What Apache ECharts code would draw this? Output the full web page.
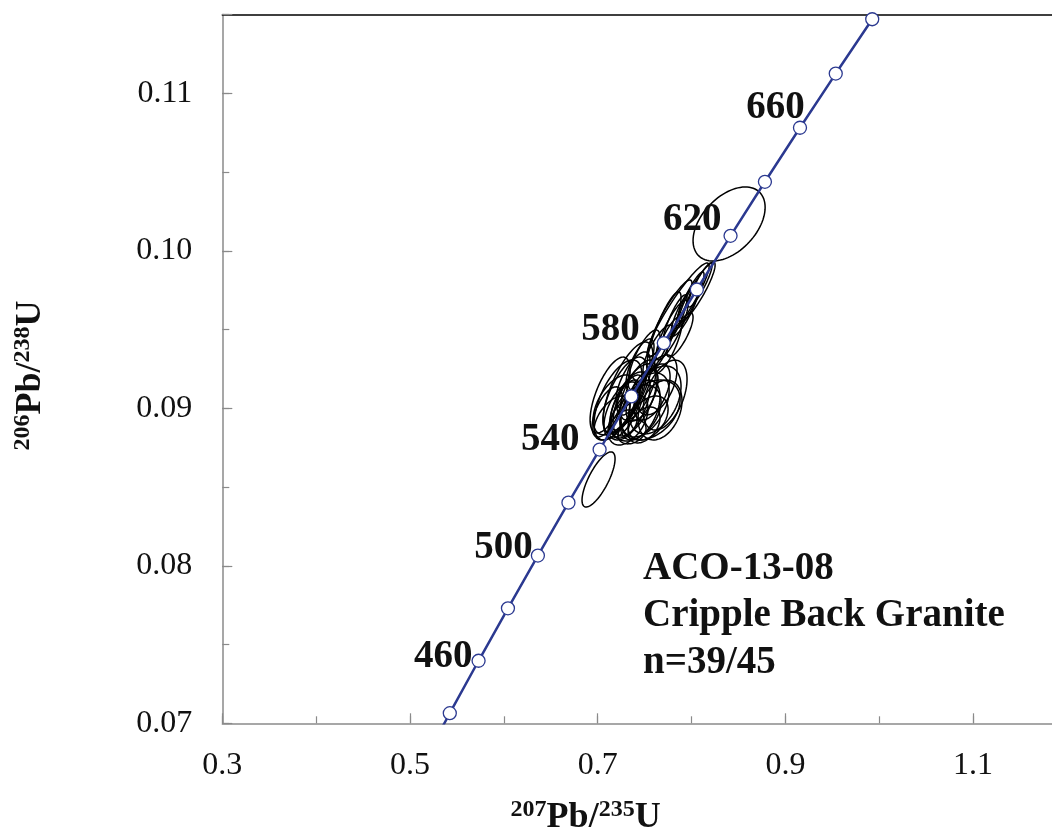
<!DOCTYPE html>
<html>
<head>
<meta charset="utf-8">
<title>Concordia ACO-13-08</title>
<script src="https://cdn.jsdelivr.net/npm/echarts@6.0.0/dist/echarts.min.js"></script>
<style>
  html, body { margin: 0; padding: 0; background: #fff; }
  #main { width: 1052px; height: 832px; }
</style>
</head>
<body>
<div id="main"></div>
<script>
// concordia ticks (Ma) and their ratios
const concAge = [420, 440, 460, 480, 500, 520, 540, 560, 580, 600, 620, 640, 660, 680, 700]
const concX = [0.51231, 0.54241, 0.57307, 0.60437, 0.63628, 0.66883, 0.70203, 0.73588, 0.77041, 0.80563, 0.84155, 0.87818, 0.91554, 0.95365, 0.99251]
const concY = [0.06732, 0.07064, 0.07397, 0.07730, 0.08065, 0.08401, 0.08738, 0.09075, 0.09414, 0.09754, 0.10095, 0.10438, 0.10781, 0.11125, 0.11470]
const labelAges = [460, 500, 540, 580, 620, 660]

// zircon analyses: 207Pb/235U, 206Pb/238U, 2s errors, rho
const ellX = [0.7217, 0.7291, 0.7345, 0.7398, 0.7451, 0.7259, 0.7505, 0.7558, 0.7611, 0.7664, 0.7323, 0.7153, 0.7430, 0.7376, 0.7323, 0.7473, 0.7537, 0.7291, 0.7185, 0.7409, 0.7579, 0.7345, 0.7494, 0.7100, 0.7632, 0.7270, 0.7451, 0.7707, 0.7792, 0.7750, 0.7824, 0.7643, 0.7877, 0.8059, 0.7984, 0.8091, 0.7931, 0.7857, 0.7771, 0.8400, 0.7009, 0.7132, 0.7718, 0.7494, 0.7366]
const ellY = [0.09053, 0.09084, 0.09021, 0.09053, 0.08989, 0.08989, 0.09021, 0.08989, 0.09053, 0.08989, 0.08926, 0.08938, 0.09116, 0.09180, 0.09129, 0.09084, 0.08938, 0.09021, 0.09021, 0.08970, 0.09103, 0.09084, 0.08894, 0.08977, 0.09148, 0.08894, 0.09275, 0.09491, 0.09497, 0.09402, 0.09561, 0.09370, 0.09466, 0.09738, 0.09688, 0.09783, 0.09624, 0.09624, 0.09573, 0.10170, 0.08548, 0.09084, 0.09084, 0.09307, 0.08850]
const ellSx = [0.0256, 0.0234, 0.0213, 0.0234, 0.0213, 0.0192, 0.0256, 0.0320, 0.0277, 0.0234, 0.0213, 0.0192, 0.0192, 0.0181, 0.0266, 0.0170, 0.0213, 0.0160, 0.0234, 0.0266, 0.0192, 0.0139, 0.0170, 0.0160, 0.0213, 0.0149, 0.0149, 0.0181, 0.0170, 0.0149, 0.0128, 0.0160, 0.0139, 0.0192, 0.0149, 0.0128, 0.0149, 0.0330, 0.0234, 0.0384, 0.0176, 0.0213, 0.0234, 0.0170, 0.0149]
const ellSy = [0.00254, 0.00241, 0.00210, 0.00229, 0.00190, 0.00178, 0.00203, 0.00190, 0.00216, 0.00190, 0.00159, 0.00140, 0.00190, 0.00178, 0.00292, 0.00165, 0.00140, 0.00159, 0.00190, 0.00178, 0.00178, 0.00127, 0.00114, 0.00159, 0.00190, 0.00095, 0.00165, 0.00248, 0.00190, 0.00178, 0.00159, 0.00159, 0.00140, 0.00190, 0.00178, 0.00140, 0.00165, 0.00298, 0.00241, 0.00235, 0.00175, 0.00241, 0.00222, 0.00190, 0.00076]
const ellRho = [0.6, 0.65, 0.55, 0.6, 0.45, 0.55, 0.45, 0.35, 0.4, 0.3, 0.45, 0.55, 0.65, 0.7, 0.7, 0.6, 0.4, 0.65, 0.5, 0.4, 0.55, 0.6, 0.4, 0.6, 0.5, 0.4, 0.7, 0.85, 0.85, 0.8, 0.85, 0.8, 0.8, 0.9, 0.9, 0.9, 0.85, 0.93, 0.9, 0.45, 0.75, 0.65, 0.45, 0.75, 0.3]

// label nudges (px) so age numbers sit like the original
const labelShift = { 460: [1, -4], 500: [2, -8], 540: [-13, -10], 580: [-17, -13], 620: [-2, -16], 660: [12, -20] }

const serif = "'Liberation Serif', 'Times New Roman', serif"
const ink = '#111'
const axisGray = '#8a8a8a'
const navy = '#2b3990'

const myChart = echarts.init(document.getElementById('main'), null, { renderer: 'canvas' })

const ellipseData = ellX.map((x, i) => [x, ellY[i], ellSx[i], ellSy[i], ellRho[i]])
const lineData = concX.map((x, i) => [x, concY[i]])
const markerData = []
concAge.forEach((age, i) => {
  if (concY[i] < 0.07) return
  const lab = labelAges.indexOf(age) >= 0
  markerData.push({
    value: [concX[i], concY[i]],
    label: {
      show: lab,
      formatter: String(age),
      offset: labelShift[age] || [0, 0]
    }
  })
})

function renderEllipse(params, api) {
  const cx = api.value(0)
  const cy = api.value(1)
  const sx = api.value(2)
  const sy = api.value(3)
  const r = api.value(4)
  const k = Math.sqrt(1 - r * r)
  const pts = []
  for (let j = 0; j < 90; j++) {
    const t = j / 90 * Math.PI * 2
    pts.push(api.coord([cx + sx * Math.cos(t), cy + sy * (r * Math.cos(t) + k * Math.sin(t))]))
  }
  return {
    type: 'polygon',
    shape: { points: pts },
    style: { fill: null, stroke: '#000', lineWidth: 1.5 }
  }
}

const tickLabel = { fontFamily: serif, fontSize: 32, color: ink }

const option = {
  animation: false,
  backgroundColor: '#fff',
  title: {
    text: 'ACO-13-08\nCripple Back Granite\nn=39/45',
    left: 643,
    top: 545,
    padding: 0,
    textStyle: { fontFamily: serif, fontSize: 39, fontWeight: 'bold', lineHeight: 47, color: ink }
  },
  grid: {
    left: 222.3, top: 14.5, bottom: 108.7, right: -14.95,
    containLabel: false,
    outerBoundsMode: 'none'
  },
  xAxis: [
    {
      type: 'value', min: 0.3, max: 1.2, interval: 0.1, position: 'bottom',
      axisLine: { onZero: false, lineStyle: { color: axisGray, width: 1.5 } },
      axisTick: { inside: true, length: 7, lineStyle: { color: axisGray, width: 1.2 } },
      axisLabel: { show: false },
      splitLine: { show: false }
    },
    {
      type: 'value', min: 0.3, max: 1.2, interval: 0.2, position: 'bottom',
      axisLine: { show: false, onZero: false },
      axisTick: { inside: true, length: 10, lineStyle: { color: axisGray, width: 1.2 } },
      axisLabel: Object.assign({
        margin: 26,
        formatter: v => (v > 1.15 ? '' : v.toFixed(1))
      }, tickLabel),
      splitLine: { show: false },
      name: '{s|207}{m|Pb/}{s|235}{m|U}',
      nameLocation: 'middle',
      nameGap: 74,
      nameTextStyle: {
        padding: [0, 118, 0, 0],
        rich: {
          s: { fontFamily: serif, fontSize: 24, fontWeight: 'bold', lineHeight: 14, verticalAlign: 'top', color: ink },
          m: { fontFamily: serif, fontSize: 36, fontWeight: 'bold', lineHeight: 40, color: ink }
        }
      }
    },
    {
      type: 'value', min: 0.3, max: 1.2, position: 'top',
      axisLine: { onZero: false, lineStyle: { color: '#000', width: 1.5 } },
      axisTick: { show: false },
      axisLabel: { show: false },
      splitLine: { show: false }
    }
  ],
  yAxis: [
    {
      type: 'value', min: 0.07, max: 0.115, interval: 0.005, position: 'left',
      axisLine: { onZero: false, lineStyle: { color: axisGray, width: 1.5 } },
      axisTick: { inside: true, length: 7, lineStyle: { color: axisGray, width: 1.2 } },
      axisLabel: { show: false },
      splitLine: { show: false }
    },
    {
      type: 'value', min: 0.07, max: 0.115, interval: 0.01, position: 'left',
      axisLine: { show: false, onZero: false },
      axisTick: { inside: true, length: 10, lineStyle: { color: axisGray, width: 1.2 } },
      axisLabel: Object.assign({
        margin: 30,
        formatter: v => (v > 0.1125 ? '' : v.toFixed(2))
      }, tickLabel),
      splitLine: { show: false },
      name: '{s|206}{m|Pb/}{s|238}{m|U}',
      nameLocation: 'middle',
      nameRotate: 90,
      nameGap: 172,
      nameTextStyle: {
        padding: [0, 13, 0, 0],
        rich: {
          s: { fontFamily: serif, fontSize: 24, fontWeight: 'bold', lineHeight: 14, verticalAlign: 'top', color: ink },
          m: { fontFamily: serif, fontSize: 36, fontWeight: 'bold', lineHeight: 40, color: ink }
        }
      }
    }
  ],
  series: [
    {
      type: 'custom',
      name: 'analyses',
      xAxisIndex: 0,
      yAxisIndex: 0,
      clip: true,
      z: 2,
      encode: { x: 0, y: 1 },
      renderItem: renderEllipse,
      data: ellipseData
    },
    {
      type: 'line',
      name: 'concordia',
      xAxisIndex: 0,
      yAxisIndex: 0,
      showSymbol: false,
      symbol: 'none',
      clip: true,
      z: 3,
      lineStyle: { color: navy, width: 2.5 },
      data: lineData
    },
    {
      type: 'scatter',
      name: 'ages',
      xAxisIndex: 0,
      yAxisIndex: 0,
      symbol: 'circle',
      symbolSize: 13,
      z: 4,
      itemStyle: { color: '#fff', borderColor: navy, borderWidth: 1.3, opacity: 1 },
      label: {
        position: 'left',
        distance: 0,
        fontFamily: serif,
        fontSize: 39,
        fontWeight: 'bold',
        color: ink
      },
      emphasis: { disabled: true },
      data: markerData
    }
  ]
}

myChart.setOption(option)
window.onresize = () => {
  myChart.resize()
}
</script>
</body>
</html>
